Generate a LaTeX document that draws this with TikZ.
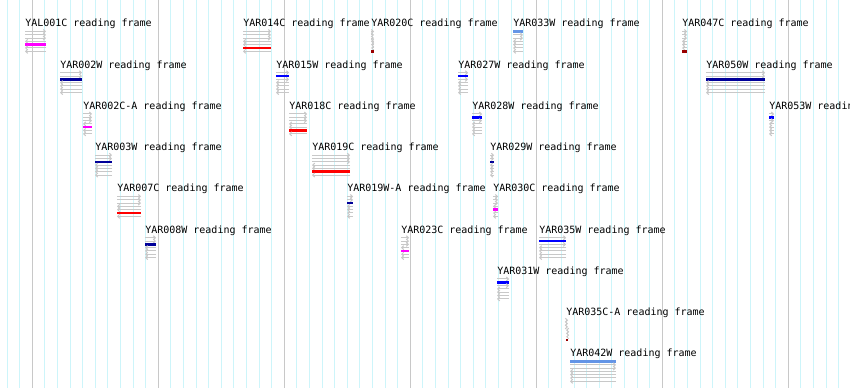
\documentclass[tikz,border=0pt]{standalone}
\usepackage{fontspec}
\newfontfamily\orffont{DejaVu Sans Mono}
\usetikzlibrary{arrows.meta}

\definecolor{gridmajor}{RGB}{200,200,200}
\definecolor{gridminor}{RGB}{205,245,250}
\definecolor{framegray}{RGB}{200,200,200}
\definecolor{framecorn}{RGB}{100,149,230}
\definecolor{frameblue}{RGB}{0,0,255}
\definecolor{framenavy}{RGB}{0,0,153}
\definecolor{framemag}{RGB}{255,0,255}
\definecolor{framered}{RGB}{255,0,0}
\definecolor{framemaroon}{RGB}{153,0,0}

\begin{document}
\begin{tikzpicture}[
  x=0.75pt, y=-0.75pt,
  orflabel/.style={anchor=base west, inner sep=0pt, font=\orffont\fontsize{7.5}{9}\selectfont},
  frameline/.style={draw=framegray, line width=0.75pt, -{Straight Barb[length=1.5pt,width=3pt]}},
  framebar/.style={line width=1.9pt},
  majorline/.style={draw=gridmajor, line width=0.75pt},
  minorline/.style={draw=gridminor, line width=0.75pt}
]
\useasboundingbox (0,0) rectangle (850,388);

% ruler lines
\foreach \j in {-2,...,64}
  \draw[minorline] ({32.3+12.6*\j},0) -- ({32.3+12.6*\j},388);
\foreach \j in {0,...,6}
  \draw[majorline] ({32.3+126*\j},0) -- ({32.3+126*\j},388);

% name / start / end / row / slot of the bar / colour
\foreach \nm/\xs/\xe/\rw/\sl/\cl in {
  YAL001C/25/46/1/4/framemag,
  YAR002W/60/82/2/2/framenavy,
  YAR002C-A/83/92/3/4/framemag,
  YAR003W/95/112/4/2/framenavy,
  YAR007C/117/141/5/5/framered,
  YAR008W/145/156/6/2/framenavy,
  YAR014C/243/271/1/5/framered,
  YAR020C/371/374/1/6/framemaroon,
  YAR015W/276/289/2/1/frameblue,
  YAR018C/289/307/3/5/framered,
  YAR019C/312/350/4/5/framered,
  YAR019W-A/347/353/5/2/framenavy,
  YAR023C/401/409/6/4/framemag,
  YAR033W/513/523/1/0/framecorn,
  YAR027W/458/468/2/1/frameblue,
  YAR028W/472/482/3/1/frameblue,
  YAR029W/490/494/4/2/framenavy,
  YAR030C/493/498/5/4/framemag,
  YAR035W/539/566/6/1/frameblue,
  YAR031W/497/509/7/1/frameblue,
  YAR035C-A/566/568/8/6/framemaroon,
  YAR042W/570/616/9/0/framecorn,
  YAR047C/682/687/1/6/framemaroon,
  YAR050W/706/765/2/2/framenavy,
  YAR053W/769/774/3/1/frameblue}{
  \pgfmathsetmacro\yl{22+41.25*(\rw-1)}
  \node[orflabel] (\nm) at (\xs,\yl+5) {\nm\ reading frame};
  \foreach \k in {0,...,6}{
    \pgfmathsetmacro\yk{\yl+9.5+3.3*\k}
    \ifnum\k=\sl\relax
      \draw[framebar, draw=\cl] (\xs,\yk) -- (\xe,\yk);
    \else\ifnum\k<3
      \draw[frameline] (\xs,\yk) -- (\xe,\yk);
    \else
      \draw[frameline] (\xe,\yk) -- (\xs,\yk);
    \fi\fi
  }
}
\end{tikzpicture}
\end{document}
